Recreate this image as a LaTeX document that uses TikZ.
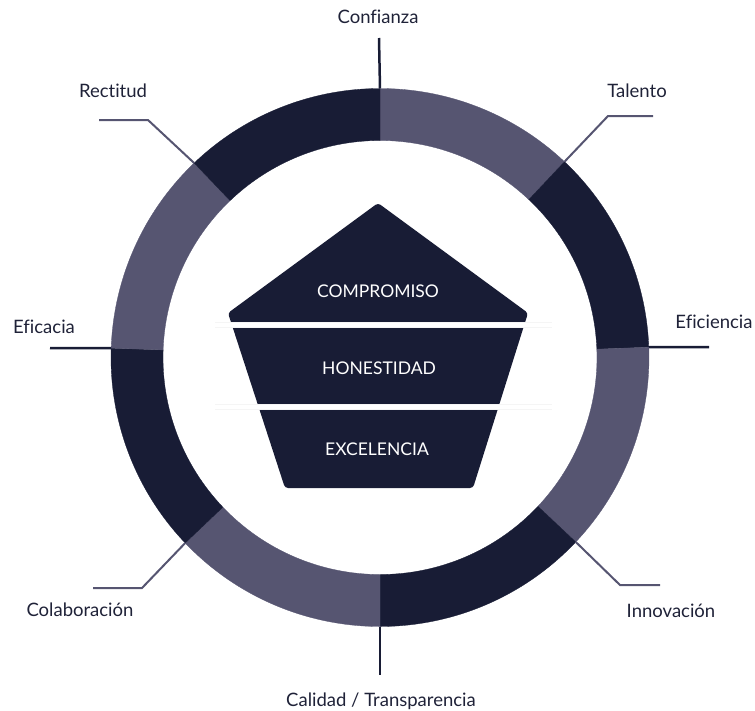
\documentclass[tikz,border=0pt]{standalone}
\usepackage{fontspec}
\setmainfont{Lato}[Ligatures={NoCommon}]
\definecolor{navy}{HTML}{181C35}
\definecolor{slate}{HTML}{565571}
\definecolor{ink}{HTML}{1F2238}
\begin{document}
\begin{tikzpicture}[x=1pt,y=1pt,
  lbl/.style={font=\fontsize{18.5}{21}\selectfont, text=ink, inner sep=0pt, anchor=base},
  inlbl/.style={font=\fontsize{17.5}{21}\selectfont, text=white, inner sep=0pt, anchor=base},
  radial/.style={draw=navy, line width=2.5pt},
  elbow/.style={draw=slate, line width=2pt}]
\useasboundingbox (0,0) rectangle (755,-710);
\coordinate (C) at (380,-357.5);
\def\Ro{269}\def\Ri{217}
% ring segments
\foreach \a/\b/\c in {90/46.7/slate, 46.7/2.2/navy, 2.2/-43.3/slate, -43.3/-90/navy, -90/-136.4/slate, -136.4/-182/navy, 178/133.7/slate, 133.7/90/navy}
  \fill[\c, draw=\c, line width=0.3pt] ([shift={(C)}]\a:\Ro) arc[start angle=\a, end angle=\b, radius=\Ro] -- ([shift={(C)}]\b:\Ri) arc[start angle=\b, end angle=\a, radius=\Ri] -- cycle;
% split points on the outer edge
\coordinate (pT) at ([shift={(C)}]90:\Ro);
\coordinate (p1) at ([shift={(C)}]46.7:\Ro);
\coordinate (p2) at ([shift={(C)}]2.2:\Ro);
\coordinate (p3) at ([shift={(C)}]-43.3:\Ro);
\coordinate (pB) at ([shift={(C)}]-90:\Ro);
\coordinate (p5) at ([shift={(C)}]-136.4:\Ro);
\coordinate (p6) at ([shift={(C)}]178:\Ro);
\coordinate (p7) at ([shift={(C)}]133.7:\Ro);
% leader ends
\coordinate (eT) at (379,-38);
\coordinate (b1) at (608,-116); \coordinate (e1) at (653,-116);
\coordinate (e2) at (709,-347);
\coordinate (b3) at (620,-585); \coordinate (e3) at (660,-585);
\coordinate (eB) at (380,-675);
\coordinate (b5) at (142,-588); \coordinate (e5) at (93,-588);
\coordinate (e6) at (50,-348);
\coordinate (b7) at (148,-120); \coordinate (e7) at (99,-120);
\draw[radial] (pT) -- (eT);
\draw[elbow] (p1) -- (b1) -- (e1);
\draw[radial] (p2) -- (e2);
\draw[elbow] (p3) -- (b3) -- (e3);
\draw[radial] (pB) -- (eB);
\draw[elbow] (p5) -- (b5) -- (e5);
\draw[radial] (p6) -- (e6);
\draw[elbow] (p7) -- (b7) -- (e7);
% labels
\node[lbl] (conf) at (378,-23) {Confianza};
\node[lbl] (tal) at (637,-97) {Talento};
\node[lbl] (efi) at (714,-328) {Eficiencia};
\node[lbl] (inn) at (671,-617) {Innovación};
\node[lbl] (cal) at (381,-706) {Calidad / Transparencia};
\node[lbl] (col) at (80,-616) {Colaboración};
\node[lbl] (efa) at (44,-333) {Eficacia};
\node[lbl] (rec) at (113,-97) {Rectitud};
% pentagon
\fill[navy, rounded corners=3pt] (378,-203) -- (528,-313) -- (473,-488) -- (285,-488) -- (228,-313) -- cycle;
\draw[black!4, line width=5.5pt] (215,-325) -- (552,-325);
\draw[white, line width=3.5pt] (215,-325) -- (552,-325);
\draw[black!4, line width=5.5pt] (215,-407) -- (552,-407);
\draw[white, line width=3.5pt] (215,-407) -- (552,-407);
\node[inlbl] (comp) at (378,-297) {COMPROMISO};
\node[inlbl] (hon) at (379,-374) {HONESTIDAD};
\node[inlbl] (exc) at (377,-455) {EXCELENCIA};
\end{tikzpicture}
\end{document}
